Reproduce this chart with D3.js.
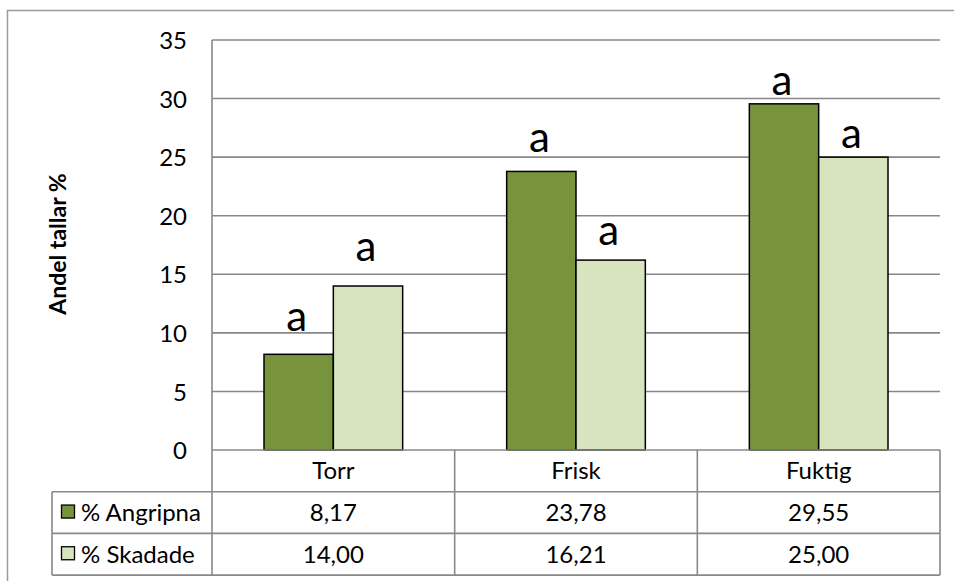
<!DOCTYPE html>
<html>
<head>
<meta charset="utf-8">
<script src="https://cdn.jsdelivr.net/npm/d3@7"></script>
<style>
  html, body { margin: 0; padding: 0; background: #fff; }
  svg { display: block; font-family: Lato, "Open Sans", sans-serif; }
</style>
</head>
<body>
<svg id="chart" width="954" height="581"></svg>
<script>
// Site moisture classes and the two series shown in the bar chart / data table
const categories = ["Torr", "Frisk", "Fuktig"];
const seriesNames = ["% Angripna", "% Skadade"];
const angripna = [8.17, 23.78, 29.55];
const skadade = [14.00, 16.21, 25.00];
const yTicks = [0, 5, 10, 15, 20, 25, 30, 35];
// Significance letters and the height (in %) where each letter's baseline sits
const sigLetters = [["a", "a"], ["a", "a"], ["a", "a"]];
const sigAt = [[10.2, 16.1], [25.4, 17.5], [30.3, 25.8]];

const colors = ["#77933C", "#D7E4BD"];
const values = [angripna, skadade];

const svg = d3.select("#chart");
const plot = { left: 212, right: 940, top: 40, bottom: 450 };
const rowH = 41.7;
const legendLeft = 52;
const fs = 24;

// Outer chart frame (runs off the right and bottom edges)
svg.append("rect")
  .attr("x", 7.5).attr("y", 10.5)
  .attr("width", 960).attr("height", 600)
  .attr("fill", "none").attr("stroke", "#9a9a9a").attr("stroke-width", 1.5);

const x0 = d3.scaleBand().domain(categories).range([plot.left, plot.right]).paddingInner(0).paddingOuter(0);
// Gap width of 150%: two bars take 2/(2+1.5) of each category
const groupW = x0.bandwidth() * 2 / 3.5;
const x1 = d3.scaleBand().domain([0, 1]).range([0, groupW]);
const y = d3.scaleLinear().domain([0, 35]).range([plot.bottom, plot.top]);

// Horizontal gridlines
svg.append("g").selectAll("line").data(yTicks.filter(t => t > 0)).join("line")
  .attr("x1", plot.left).attr("x2", plot.right)
  .attr("y1", d => y(d)).attr("y2", d => y(d))
  .attr("stroke", "#888").attr("stroke-width", 1.6);

// Y axis line
svg.append("line")
  .attr("x1", plot.left).attr("x2", plot.left)
  .attr("y1", plot.top).attr("y2", plot.bottom + 3 * rowH)
  .attr("stroke", "#888").attr("stroke-width", 1.6);

// Y tick labels
const yAxis = d3.axisLeft(y).tickValues(yTicks).tickSize(0).tickPadding(25);
const yg = svg.append("g").attr("transform", `translate(${plot.left},0)`).call(yAxis);
yg.select(".domain").remove();
yg.selectAll("text").attr("font-size", fs).attr("fill", "#000")
  .attr("font-family", "Lato, sans-serif").attr("dy", "0.36em");

// Y axis title
svg.append("text")
  .attr("transform", `translate(66,244) rotate(-90)`)
  .attr("text-anchor", "middle")
  .attr("font-size", 23).attr("font-weight", "bold")
  .text("Andel tallar %");

// Bars with significance letters
categories.forEach((cat, ci) => {
  const gx = x0(cat) + (x0.bandwidth() - groupW) / 2;
  values.forEach((vals, si) => {
    svg.append("rect")
      .attr("x", gx + x1(si)).attr("y", y(vals[ci]))
      .attr("width", x1.bandwidth()).attr("height", y(0) - y(vals[ci]))
      .attr("fill", colors[si]).attr("stroke", "#000").attr("stroke-width", 1.5);
    svg.append("text")
      .attr("x", gx + x1(si) + x1.bandwidth() / 2 - 2)
      .attr("y", y(sigAt[ci][si]))
      .attr("text-anchor", "middle")
      .attr("font-size", 42)
      .text(sigLetters[ci][si]);
  });
});

// Data table
const tbl = svg.append("g").attr("stroke", "#888").attr("stroke-width", 1.6);
tbl.append("line").attr("x1", plot.left).attr("x2", plot.right).attr("y1", plot.bottom).attr("y2", plot.bottom);
[1, 2, 3].forEach(r => {
  tbl.append("line").attr("x1", legendLeft).attr("x2", plot.right)
    .attr("y1", plot.bottom + r * rowH).attr("y2", plot.bottom + r * rowH);
});
categories.forEach(cat => {
  tbl.append("line").attr("x1", x0(cat) + x0.bandwidth()).attr("x2", x0(cat) + x0.bandwidth())
    .attr("y1", plot.bottom).attr("y2", plot.bottom + 3 * rowH);
});
tbl.append("line").attr("x1", legendLeft).attr("x2", legendLeft)
  .attr("y1", plot.bottom + rowH).attr("y2", plot.bottom + 3 * rowH);

const fmt = v => v.toFixed(2).replace(".", ",");
// category header row
svg.append("g").selectAll("text").data(categories).join("text")
  .attr("x", d => x0(d) + x0.bandwidth() / 2)
  .attr("y", plot.bottom + rowH / 2)
  .attr("dy", "0.36em").attr("text-anchor", "middle").attr("font-size", fs)
  .text(d => d);
// value rows with legend keys
values.forEach((vals, si) => {
  const cy = plot.bottom + (si + 1.5) * rowH;
  svg.append("rect")
    .attr("x", 61.5).attr("y", cy - 7.5).attr("width", 13).attr("height", 13)
    .attr("fill", colors[si]).attr("stroke", "#000").attr("stroke-width", 1.3);
  svg.append("text")
    .attr("x", 81).attr("y", cy).attr("dy", "0.36em").attr("font-size", fs)
    .text(seriesNames[si]);
  svg.append("g").selectAll("text").data(vals).join("text")
    .attr("x", (d, i) => x0(categories[i]) + x0.bandwidth() / 2)
    .attr("y", cy).attr("dy", "0.36em").attr("text-anchor", "middle").attr("font-size", fs)
    .text(d => fmt(d));
});
</script>
</body>
</html>
